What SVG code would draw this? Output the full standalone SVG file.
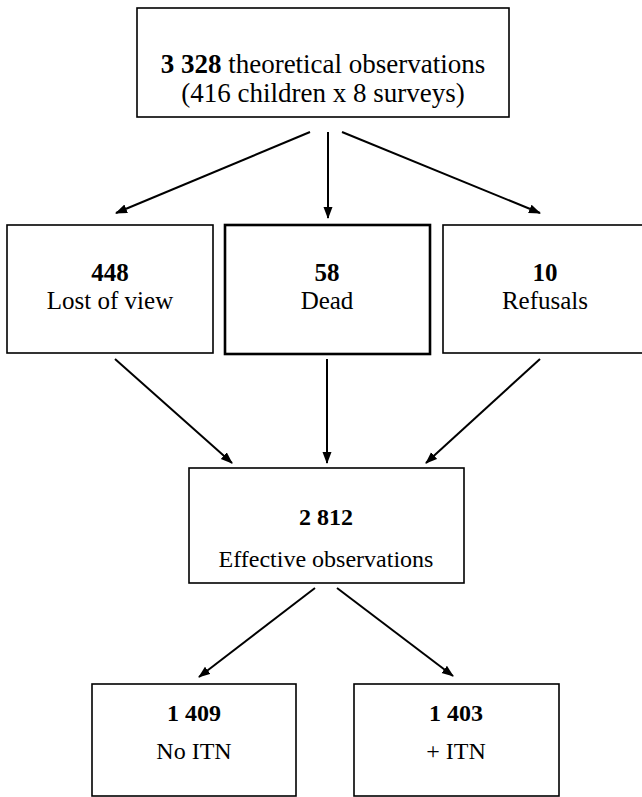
<svg xmlns="http://www.w3.org/2000/svg" width="642" height="797" viewBox="0 0 642 797">
  <defs>
    <marker id="ah" markerUnits="userSpaceOnUse" markerWidth="12" markerHeight="10" refX="11" refY="4.5" orient="auto">
      <path d="M0,0 L12,4.5 L0,9 Z" fill="#000"/>
    </marker>
  </defs>
  <style>
    .box { fill: #fff; stroke: #000; stroke-width: 1.6; }
    .thick { stroke-width: 2.6; }
    text { font-family: 'Liberation Serif', 'DejaVu Serif', serif; font-size: 24px; fill: #000; text-anchor: middle; }
    .big { font-size: 27px; }
    .mid { font-size: 25px; }
    .b { font-weight: bold; }
    .c { stroke: #000; stroke-width: 2; fill: none; marker-end: url(#ah); }
  </style>
  <rect width="642" height="797" fill="#fff"/>
  <g id="connectors">
    <line class="c" x1="310" y1="132" x2="116" y2="213"/>
    <line class="c" x1="328" y1="132" x2="328" y2="218"/>
    <line class="c" x1="342" y1="132" x2="540" y2="213"/>
    <line class="c" x1="115" y1="359" x2="232" y2="463"/>
    <line class="c" x1="327" y1="359" x2="327" y2="463"/>
    <line class="c" x1="540" y1="359" x2="426" y2="463"/>
    <line class="c" x1="315" y1="588" x2="199" y2="677"/>
    <line class="c" x1="337" y1="588" x2="453" y2="676"/>
  </g>
  <g id="theoretical">
    <rect class="box" x="137" y="8" width="372" height="109"/>
    <text class="big" x="323" y="73"><tspan class="b">3 328</tspan> theoretical observations</text>
    <text class="big" x="323" y="102">(416 children x 8 surveys)</text>
  </g>
  <g id="lost">
    <rect class="box" x="7" y="225" width="206" height="128"/>
    <text class="b mid" x="110" y="281">448</text>
    <text class="mid" x="110" y="309">Lost of view</text>
  </g>
  <g id="dead">
    <rect class="box thick" x="225" y="225" width="205" height="129"/>
    <text class="b mid" x="327" y="281">58</text>
    <text class="mid" x="327" y="309">Dead</text>
  </g>
  <g id="refusals">
    <rect class="box" x="443" y="225" width="210" height="128"/>
    <text class="b mid" x="545" y="281">10</text>
    <text class="mid" x="545" y="309">Refusals</text>
  </g>
  <g id="effective">
    <rect class="box" x="189" y="468" width="275" height="115"/>
    <text class="b" x="326" y="525">2 812</text>
    <text x="326" y="567">Effective observations</text>
  </g>
  <g id="noitn">
    <rect class="box" x="92" y="684" width="204" height="112"/>
    <text class="b" x="194" y="721">1 409</text>
    <text x="194" y="759">No ITN</text>
  </g>
  <g id="itn">
    <rect class="box" x="354" y="684" width="205" height="112"/>
    <text class="b" x="456" y="721">1 403</text>
    <text x="456" y="759">+ ITN</text>
  </g>
</svg>
